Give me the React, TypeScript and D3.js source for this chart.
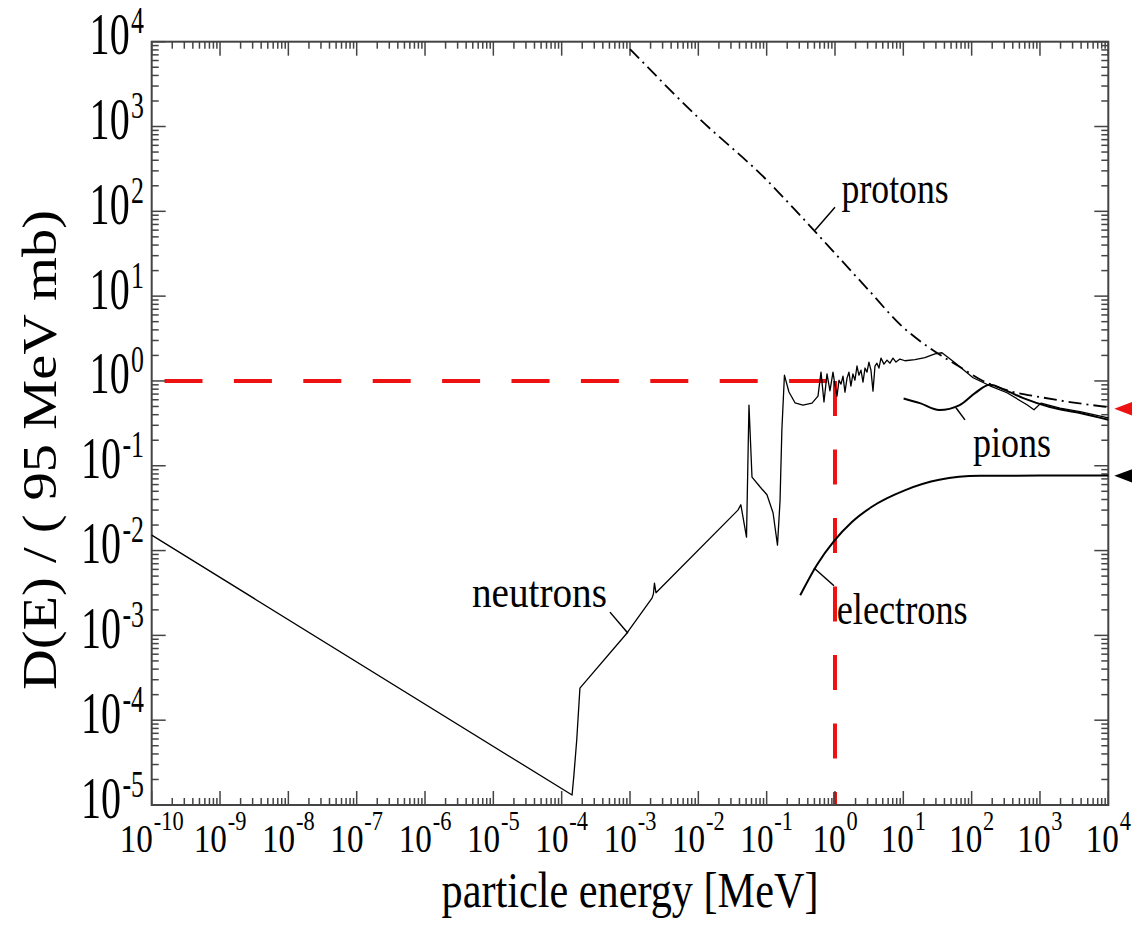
import { useEffect, useRef } from 'react'
import * as d3 from 'd3'

// neutrons (thin solid line) — energy [MeV] and D(E)
const neutronE = [1e-10, 1.42e-4, 1.51e-4, 1.66e-4, 1.85e-4, 9.0e-4, 2.1e-3, 2.2e-3, 2.28e-3, 2.4e-3,
  3.8e-2, 4.19e-2, 5.07e-2, 5.51e-2, 6.1e-2, 7.98e-2, 0.101, 0.124, 0.144, 0.157, 0.167, 0.182,
  0.212, 0.26, 0.34, 0.461, 0.564, 0.624, 0.69, 0.764, 0.845, 0.935,
  1.0, 1.07, 1.145, 1.225, 1.31, 1.4, 1.5, 1.6, 1.71, 1.83, 1.96, 2.1, 2.24, 2.4, 2.57, 2.75, 2.94,
  3.14, 3.36, 3.6, 3.85, 4.11, 4.4, 4.71, 5.21, 5.77, 6.38, 7.06, 7.81, 8.93,
  10.6, 14.8, 20.7, 29, 36.8, 57, 105, 185, 329, 646, 817, 1035, 1963, 3855, 1e4]
const neutronD = [1.52e-2, 1.31e-5, 2.25e-5, 5.8e-5, 2.39e-4, 1.06e-3, 2.75e-3, 3.07e-3, 4.14e-3, 3.18e-3,
  3.0e-2, 3.47e-2, 1.44e-2, 0.52, 7.36e-2, 5.65e-2, 4.55e-2, 2.79e-2, 1.16e-2, 3.86e-2, 0.264, 1.17,
  0.74, 0.553, 0.52, 0.548, 0.662, 1.27, 0.564, 1.21, 0.766, 1.27,
  0.893, 0.663, 1.02, 0.918, 1.14, 0.739, 1.08, 1.27, 0.869, 1.21, 1.02, 1.5, 1.17, 1.34, 0.97, 1.42, 1.27,
  1.67, 1.34, 0.759, 1.5, 1.62, 1.42, 1.86, 1.58, 1.76, 1.62, 1.86, 1.67, 1.81,
  1.73, 1.78, 1.88, 2.09, 2.15, 1.64, 1.09, 0.877, 0.726, 0.524, 0.457, 0.548, 0.479, 0.434, 0.366]

// protons (dash-dot)
const protonE = [1e-3, 1e-2, 0.1, 0.307, 1, 3.04, 9.9, 17.5, 33.3, 67.6, 147, 364, 1000, 2750, 1e4]
const protonD = [8200, 1270, 234, 90, 32, 12, 4.3, 2.96, 2.07, 1.46, 1.0, 0.76, 0.646, 0.564, 0.492]

// pions
const pionE = [10.1, 17.5, 33.6, 66.8, 112, 185, 308, 583, 1400, 3855, 1e4]
const pionD = [0.622, 0.548, 0.454, 0.52, 0.719, 0.9, 0.78, 0.622, 0.492, 0.419, 0.348]

// electrons
const electronE = [0.31, 0.546, 0.966, 1.77, 3.42, 10.7, 33.6, 132, 1000, 1e4]
const electronD = [2.97e-3, 6.81e-3, 1.29e-2, 2.17e-2, 3.26e-2, 5.16e-2, 6.82e-2, 7.6e-2, 7.67e-2, 7.67e-2]

// tick labels (powers of ten)
const xPowers = ['-10', '-9', '-8', '-7', '-6', '-5', '-4', '-3', '-2', '-1', '0', '1', '2', '3', '4']
const yPowers = ['-5', '-4', '-3', '-2', '-1', '0', '1', '2', '3', '4']

// curve labels: text, left edge E, baseline D, callout from [E, D] to [E, D]
const labelText = ['protons', 'neutrons', 'electrons', 'pions']
const labelPos = [[1.25, 125], [4.86e-6, 2.16e-3], [1.06, 1.36e-3], [105, 0.127]]
const labelWidth = [107, 135, 131, 78]
const calloutFrom = [[0.51, 60], [9.33e-4, 1.06e-3], [0.493, 6.22e-3], [59, 0.483]]
const calloutTo = [[1.0, 112], [5.09e-4, 1.88e-3], [0.966, 3.85e-3], [79.8, 0.348]]

// marker arrows at the right edge
const arrowD = [0.47, 0.076]
const arrowColor = ['#ee1111', '#000']

const W = 1132
const H = 926
const plot = { left: 151.7, right: 1108.3, top: 41.7, bottom: 805 }
const font = '"Liberation Serif", "Times New Roman", serif'

export default function App() {
  const ref = useRef<SVGSVGElement>(null)

  useEffect(() => {
    const svg = d3.select(ref.current)
    svg.selectAll('*').remove()

    const x = d3.scaleLog().domain([1e-10, 1e4]).range([plot.left, plot.right])
    const y = d3.scaleLog().domain([1e-5, 1e4]).range([plot.bottom, plot.top])

    svg.append('rect').attr('width', W).attr('height', H).attr('fill', '#fff')

    // red guide lines at E = 1 MeV, D = 1
    svg.append('line')
      .attr('x1', x(1e-10)).attr('x2', x(1))
      .attr('y1', y(1)).attr('y2', y(1))
      .attr('stroke', '#ee1111').attr('stroke-width', 4)
      .attr('stroke-dasharray', '38 31.4').attr('stroke-dashoffset', 56.6)
    svg.append('line')
      .attr('x1', x(1)).attr('x2', x(1))
      .attr('y1', y(1)).attr('y2', y(1e-5))
      .attr('stroke', '#ee1111').attr('stroke-width', 4)
      .attr('stroke-dasharray', '35 33.5')

    // frame + ticks
    const axisColor = '#444'
    svg.append('rect')
      .attr('x', plot.left).attr('y', plot.top)
      .attr('width', plot.right - plot.left).attr('height', plot.bottom - plot.top)
      .attr('fill', 'none').attr('stroke', axisColor).attr('stroke-width', 2)

    const xt = d3.range(-10, 4).flatMap(k => d3.range(1, 10).map(m => ({ v: m * 10 ** k, major: m === 1 })))
      .concat([{ v: 1e4, major: true }])
    const yt = d3.range(-5, 4).flatMap(k => d3.range(1, 10).map(m => ({ v: m * 10 ** k, major: m === 1 })))
      .concat([{ v: 1e4, major: true }])

    const ticks = svg.append('g').attr('stroke', axisColor).attr('stroke-width', 1.5)
    xt.forEach(t => {
      const len = t.major ? 14 : 7
      ticks.append('line').attr('x1', x(t.v)).attr('x2', x(t.v)).attr('y1', plot.bottom).attr('y2', plot.bottom - len)
      ticks.append('line').attr('x1', x(t.v)).attr('x2', x(t.v)).attr('y1', plot.top).attr('y2', plot.top + len)
    })
    yt.forEach(t => {
      const len = t.major ? 14 : 7
      ticks.append('line').attr('y1', y(t.v)).attr('y2', y(t.v)).attr('x1', plot.left).attr('x2', plot.left + len)
      ticks.append('line').attr('y1', y(t.v)).attr('y2', y(t.v)).attr('x1', plot.right).attr('x2', plot.right - len)
    })

    // tick labels
    xPowers.forEach(p => {
      const t = svg.append('g')
        .attr('transform', `translate(${x(10 ** +p)},852) scale(0.83,1)`)
        .append('text')
        .attr('text-anchor', 'middle').attr('font-family', font).attr('fill', '#000')
      t.append('tspan').attr('font-size', 40).text('10')
      t.append('tspan').attr('font-size', 27).attr('dy', -22).attr('dx', 1).text(p)
    })
    yPowers.forEach(p => {
      const t = svg.append('g')
        .attr('transform', `translate(144,${y(10 ** +p) + 12.5}) scale(0.68,1)`)
        .append('text')
        .attr('text-anchor', 'end').attr('font-family', font).attr('fill', '#000')
      t.append('tspan').attr('font-size', 59).text('10')
      t.append('tspan').attr('font-size', 38).attr('dy', -21).attr('dx', 2).text(p)
    })

    // axis titles
    svg.append('text')
      .attr('x', (plot.left + plot.right) / 2).attr('y', 907)
      .attr('text-anchor', 'middle').attr('font-family', font).attr('font-size', 50)
      .attr('textLength', 377).attr('lengthAdjust', 'spacingAndGlyphs')
      .text('particle energy [MeV]')
    svg.append('text')
      .attr('transform', `translate(56,450) rotate(-90)`)
      .attr('text-anchor', 'middle').attr('font-family', font).attr('font-size', 48)
      .attr('font-weight', 'normal')
      .attr('textLength', 480).attr('lengthAdjust', 'spacingAndGlyphs')
      .text('D(E) / ( 95 MeV mb)')

    // curves
    const line = (curve: d3.CurveFactory) => d3.line<[number, number]>()
      .x(d => x(d[0])).y(d => y(d[1])).curve(curve)
    const zip = (a: number[], b: number[]) => a.map((v, i) => [v, b[i]] as [number, number])

    svg.append('path').datum(zip(protonE, protonD))
      .attr('d', line(d3.curveMonotoneX))
      .attr('fill', 'none').attr('stroke', '#000').attr('stroke-width', 1.8)
      .attr('stroke-dasharray', '13 5 2 5')
    svg.append('path').datum(zip(neutronE, neutronD))
      .attr('d', line(d3.curveLinear))
      .attr('fill', 'none').attr('stroke', '#000').attr('stroke-width', 1.3)
      .attr('stroke-linejoin', 'round')
    svg.append('path').datum(zip(pionE, pionD))
      .attr('d', line(d3.curveMonotoneX))
      .attr('fill', 'none').attr('stroke', '#000').attr('stroke-width', 2)
    svg.append('path').datum(zip(electronE, electronD))
      .attr('d', line(d3.curveMonotoneX))
      .attr('fill', 'none').attr('stroke', '#000').attr('stroke-width', 2)

    // curve labels with callouts
    labelText.forEach((s, i) => {
      svg.append('line')
        .attr('x1', x(calloutFrom[i][0])).attr('y1', y(calloutFrom[i][1]))
        .attr('x2', x(calloutTo[i][0])).attr('y2', y(calloutTo[i][1]))
        .attr('stroke', '#000').attr('stroke-width', 1.5)
      svg.append('text')
        .attr('x', x(labelPos[i][0])).attr('y', y(labelPos[i][1]))
        .attr('font-family', font).attr('font-size', 44)
        .attr('textLength', labelWidth[i]).attr('lengthAdjust', 'spacingAndGlyphs')
        .text(s)
    })

    // arrows at right edge
    arrowD.forEach((d, i) => {
      const yy = y(d)
      svg.append('path')
        .attr('d', `M${plot.right + 6},${yy}L${plot.right + 30},${yy - 9}L${plot.right + 30},${yy + 9}Z`)
        .attr('fill', arrowColor[i])
    })
  }, [])

  return (
    <svg ref={ref} width={W} height={H}
      style={{ position: 'absolute', left: 0, top: 0, display: 'block' }} />
  )
}
